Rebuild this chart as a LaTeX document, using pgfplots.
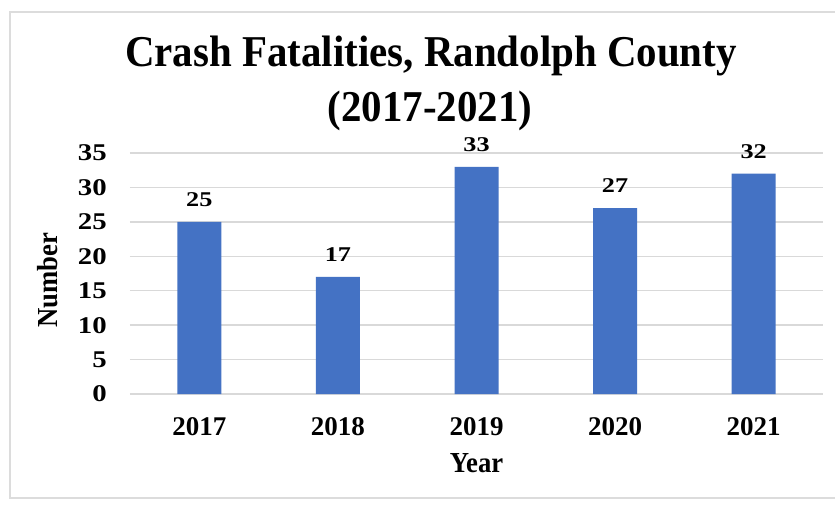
\documentclass[border=0pt]{standalone}
\usepackage{fontspec}
\setmainfont{Liberation Serif}
\newfontfamily\titlefont[FakeStretch=0.93]{Liberation Serif}
\newfontfamily\tickfont[FakeStretch=1.2]{Liberation Serif}
\newfontfamily\lblfont[FakeStretch=1.25]{Liberation Serif}
\newfontfamily\axfont[FakeStretch=0.92]{Liberation Serif}
\usepackage{pgfplots}
\pgfplotsset{compat=1.18}
\definecolor{barblue}{HTML}{4472C4}
\definecolor{gridgray}{HTML}{D9D9D9}
\definecolor{framegray}{HTML}{DCDCDC}
\begin{document}
\begin{tikzpicture}[x=1pt,y=1pt]
\path[use as bounding box] (0,0) rectangle (835,504);
\fill[white] (0,0) rectangle (835,504);
% chart frame
\draw[framegray, line width=1.5pt] (845,492) -- (10,492) -- (10,6) -- (845,6);
% title
\node[anchor=base, inner sep=0pt] at (431,437) {\titlefont\bfseries\fontsize{44}{44}\selectfont Crash Fatalities, Randolph County};
\node[anchor=base, inner sep=0pt] at (430,382) {\titlefont\bfseries\fontsize{44}{44}\selectfont (2017-2021)};
\begin{axis}[
  at={(130pt,110pt)}, anchor=south west,
  scale only axis, width=693pt, height=241pt,
  xmin=-0.5, xmax=4.5, ymin=0, ymax=35,
  enlargelimits=false,
  ybar, bar width=44pt,
  axis line style={draw=none},
  major tick length=0pt,
  ytick={0,5,...,35},
  xtick={0,1,2,3,4},
  xticklabels={2017,2018,2019,2020,2021},
  ymajorgrids,
  grid style={gridgray, line width=1.5pt},
  /pgf/number format/assume math mode=true,
  yticklabel style={anchor=east, inner sep=0pt, xshift=-23pt, font=\tickfont\bfseries\fontsize{24}{24}\selectfont},
  xticklabel style={anchor=north, inner sep=0pt, yshift=-23pt, font=\bfseries\fontsize{27}{27}\selectfont},
  xlabel={Year},
  xlabel style={at={(axis description cs:0.5,0)}, anchor=north, inner sep=0pt, yshift=-59pt, font=\axfont\bfseries\fontsize{29}{29}\selectfont},
  ylabel={Number},
  ylabel style={at={(axis description cs:-0.1183,0.473)}, anchor=center, inner sep=0pt, font=\axfont\bfseries\fontsize{29}{29}\selectfont},
  nodes near coords,
  every node near coord/.append style={anchor=south, inner sep=0pt, yshift=15pt, font=\lblfont\bfseries\fontsize{21}{21}\selectfont, text=black},
]
\addplot[fill=barblue, draw=none] coordinates {(0,25) (1,17) (2,33) (3,27) (4,32)};
\end{axis}
\end{tikzpicture}
\end{document}
